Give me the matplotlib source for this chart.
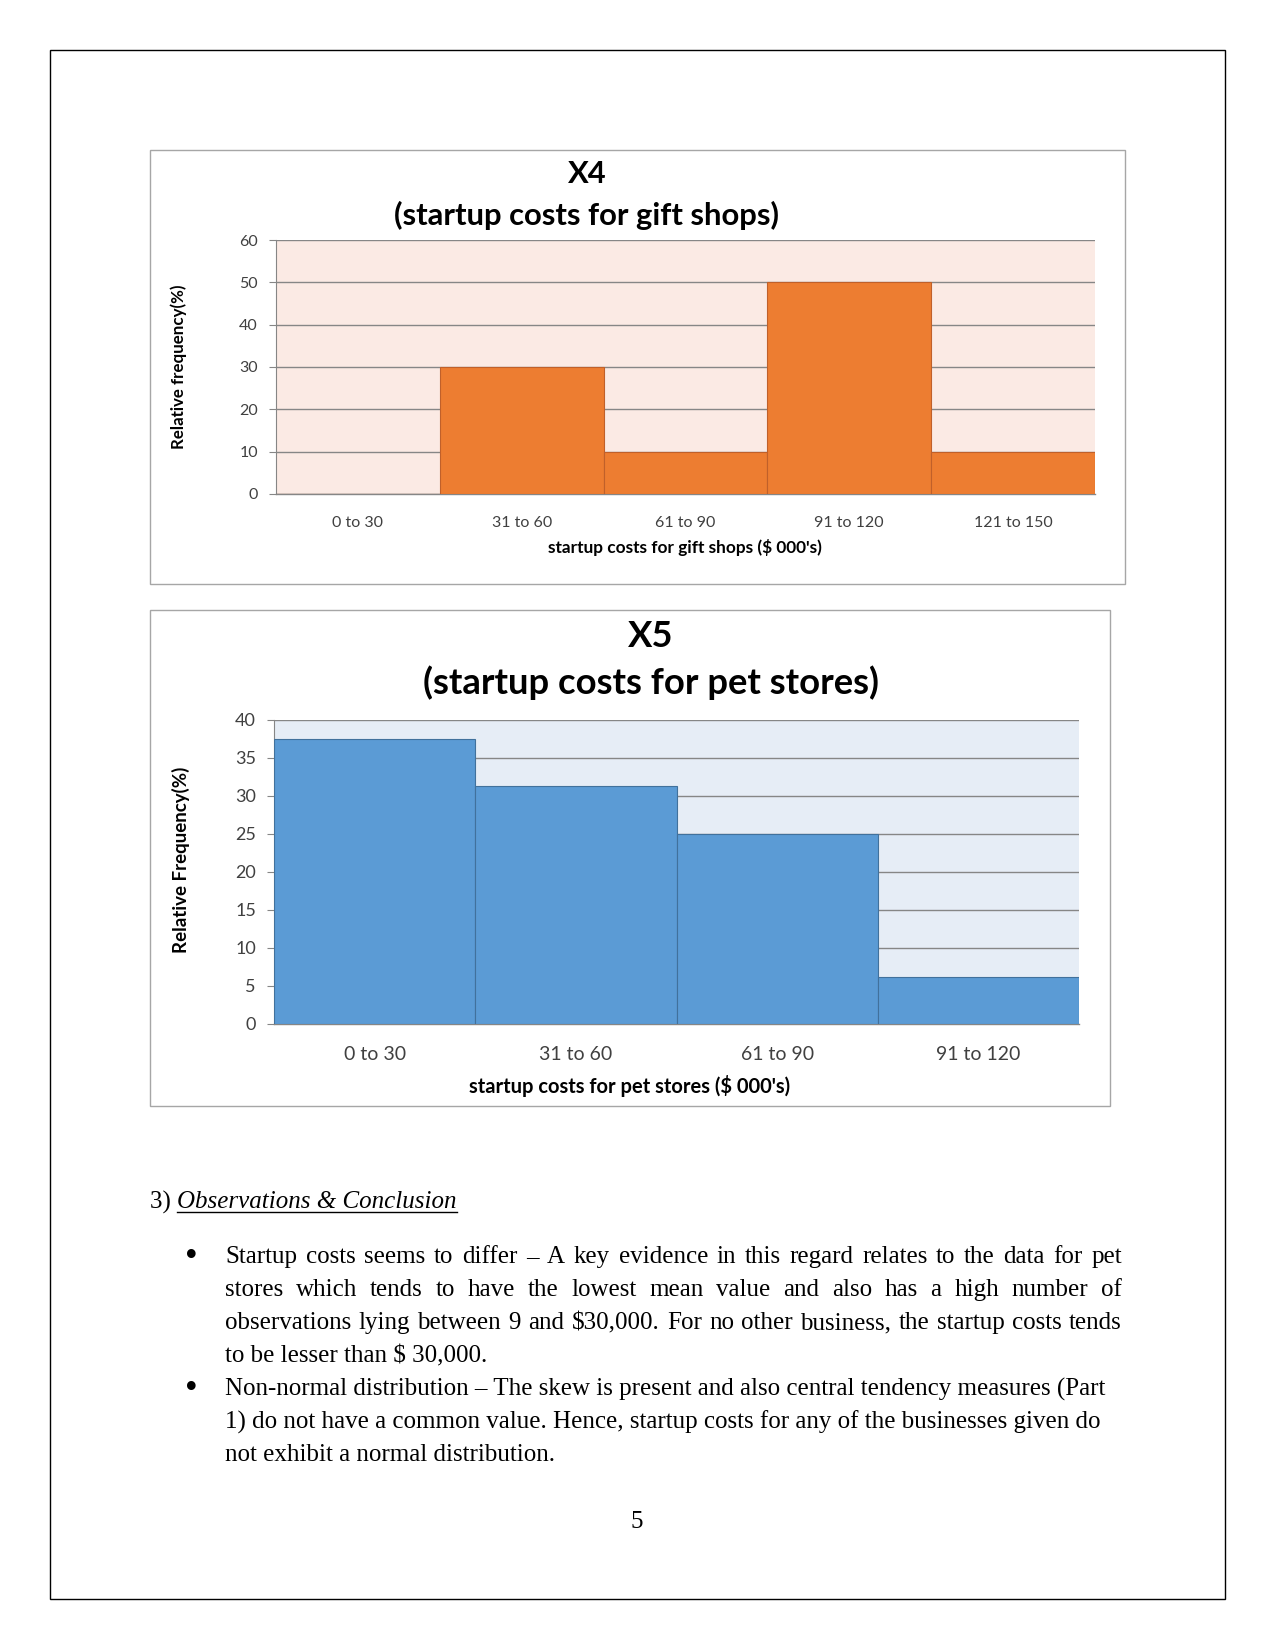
import matplotlib
matplotlib.use("Agg")
import matplotlib.pyplot as plt
from matplotlib.patches import Rectangle
from matplotlib.lines import Line2D

# ---------------- data ----------------
x4_categories = ["0 to 30", "31 to 60", "61 to 90", "91 to 120", "121 to 150"]
x4_values = [0, 30, 10, 50, 10]
x4_yticks = [0, 10, 20, 30, 40, 50, 60]

x5_categories = ["0 to 30", "31 to 60", "61 to 90", "91 to 120"]
x5_values = [37.5, 31.25, 25, 6.25]
x5_yticks = [0, 5, 10, 15, 20, 25, 30, 35, 40]

W, H = 1275, 1650
DPI = 100
fig = plt.figure(figsize=(W / DPI, H / DPI), dpi=DPI)
fig.patch.set_facecolor("white")

CHART_FONT = ["Lato", "DejaVu Sans"]
BODY_FONT = ["Liberation Serif", "DejaVu Serif"]


def fx(x):
    return x / W


def fy(y):
    return 1 - y / H


def box(x0, y0, x1, y1, color="#7f7f7f", lw=1.0):
    fig.patches.append(Rectangle((fx(x0), fy(y1)), fx(x1) - fx(x0), fy(y0) - fy(y1),
                                 transform=fig.transFigure, fill=False,
                                 edgecolor=color, linewidth=lw, zorder=0))


# page border
box(50, 50, 1225, 1599, color="#000000", lw=1.0)


def chart(box_coords, plot_coords, cats, vals, yticks, face, bar_color, edge_color,
          title1, title2, title_x, title_y1, title_y2, title_size, ylabel, ylabel_x,
          ylabel_y, ylabel_size, xlabel, xlabel_x, xlabel_y, xtick_size, ytick_size,
          xlabel_size):
    bx0, by0, bx1, by1 = box_coords
    box(bx0, by0, bx1, by1, color="#a6a6a6", lw=1.0)
    px0, py0, px1, py1 = plot_coords
    ax = fig.add_axes([fx(px0), fy(py1), fx(px1) - fx(px0), fy(py0) - fy(py1)])
    ax.set_facecolor(face)
    ax.bar(range(len(cats)), vals, width=1.0, color=bar_color, edgecolor=edge_color,
           linewidth=0.8, zorder=3)
    ax.set_xlim(-0.5, len(cats) - 0.5)
    ax.set_ylim(yticks[0], yticks[-1])
    ax.set_yticks(yticks)
    ax.set_yticklabels([str(t) for t in yticks], fontsize=ytick_size,
                       family=CHART_FONT, color="#404040")
    ax.set_xticks(range(len(cats)))
    ax.set_xticklabels(cats, fontsize=xtick_size, family=CHART_FONT, color="#404040")
    ax.tick_params(axis="x", length=0, pad=16)
    ax.tick_params(axis="y", length=5, width=0.8, color="#868686", pad=8)
    ax.yaxis.grid(True, color="#868686", linewidth=1.0, zorder=0)
    ax.set_axisbelow(True)
    for s in ["top", "right"]:
        ax.spines[s].set_visible(False)
    ax.spines["left"].set_color("#868686")
    ax.spines["bottom"].set_color("#868686")
    ax.spines["left"].set_linewidth(0.8)
    ax.spines["bottom"].set_linewidth(1.0)
    fig.text(fx(title_x), fy(title_y1), title1, ha="center", va="center",
             fontsize=title_size, fontweight="bold", family=CHART_FONT, color="#000000")
    fig.text(fx(title_x), fy(title_y2), title2, ha="center", va="center",
             fontsize=title_size, fontweight="bold", family=CHART_FONT, color="#000000")
    fig.text(fx(ylabel_x), fy(ylabel_y), ylabel, ha="center", va="center",
             rotation=90, fontsize=ylabel_size, fontweight="bold", family=CHART_FONT,
             color="#000000")
    fig.text(fx(xlabel_x), fy(xlabel_y), xlabel, ha="center", va="center",
             fontsize=xlabel_size, fontweight="bold", family=CHART_FONT, color="#000000")
    return ax


chart((150, 150, 1125, 584), (276, 240, 1095, 494), x4_categories, x4_values, x4_yticks,
      "#fbeae4", "#ed7d31", "#c0602a",
      "X4", "(startup costs for gift shops)", 587, 174, 215, 22.3,
      "Relative frequency(%)", 179, 367, 12.2,
      "startup costs for gift shops ($ 000's)", 685, 548, 11.5, 11.5, 12.4)

chart((150, 610, 1110, 1106), (274, 720, 1079, 1024), x5_categories, x5_values, x5_yticks,
      "#e6edf6", "#5b9bd5", "#41719c",
      "X5", "(startup costs for pet stores)", 651, 636, 683, 26.2,
      "Relative Frequency(%)", 181, 860, 13.5,
      "startup costs for pet stores ($ 000's)", 630, 1086, 14, 13, 14.5)

# ---------------- body text ----------------
BODY_SIZE = 18
renderer = fig.canvas.get_renderer()


def text_width(s, size=BODY_SIZE, style="normal"):
    t = fig.text(0, 0, s, fontsize=size, family=BODY_FONT, style=style)
    w = t.get_window_extent(renderer).width
    t.remove()
    return w


def justify_line(words, x0, x1, y):
    widths = [text_width(w) for w in words]
    gap = (x1 - x0 - sum(widths)) / (len(words) - 1)
    x = x0
    for w, wd in zip(words, widths):
        fig.text(fx(x), fy(y), w, ha="left", va="center", fontsize=BODY_SIZE,
                 family=BODY_FONT, color="#000000")
        x += wd + gap


def plain_line(s, x0, y):
    fig.text(fx(x0), fy(y), s, ha="left", va="center", fontsize=BODY_SIZE,
             family=BODY_FONT, color="#000000")


# heading
hx = 150
hy = 1202
fig.text(fx(hx), fy(hy), "3) ", ha="left", va="center", fontsize=BODY_SIZE,
         family=BODY_FONT, color="#000000")
w3 = text_width("3) ")
fig.text(fx(hx + w3), fy(hy), "Observations & Conclusion", ha="left", va="center",
         fontsize=BODY_SIZE, family=BODY_FONT, style="italic", color="#000000")
wh = text_width("Observations & Conclusion", style="italic")
fig.add_artist(Line2D([fx(hx + w3), fx(hx + w3 + wh)], [fy(hy + 10), fy(hy + 10)],
                      transform=fig.transFigure, color="#000000", linewidth=1.0))

LX0, LX1 = 225, 1122
BULLET_X = 191

bullet1 = [
    "Startup costs seems to differ \u2013 A key evidence in this regard relates to the data for pet",
    "stores which tends to have the lowest mean value and also has a high number of",
    "observations lying between 9 and $30,000. For no other business, the startup costs tends",
]
bullet1_last = "to be lesser than $ 30,000."
bullet2 = [
    "Non-normal distribution \u2013 The skew is present and also central tendency measures (Part",
    "1) do not have a common value. Hence, startup costs for any of the businesses given do",
    "not exhibit a normal distribution.",
]

line_ys1 = [1257, 1290, 1323, 1356]
line_ys2 = [1389, 1422, 1455]

fig.text(fx(BULLET_X), fy(line_ys1[0]), "\u2022", ha="center", va="center",
         fontsize=26, family=BODY_FONT)
for s, y in zip(bullet1, line_ys1):
    justify_line(s.split(" "), LX0, LX1, y)
plain_line(bullet1_last, LX0, line_ys1[3])

fig.text(fx(BULLET_X), fy(line_ys2[0]), "\u2022", ha="center", va="center",
         fontsize=26, family=BODY_FONT)
for s, y in zip(bullet2, line_ys2):
    plain_line(s, LX0, y)

fig.text(fx(637), fy(1522), "5", ha="center", va="center", fontsize=BODY_SIZE,
         family=BODY_FONT)

fig.savefig("out.png", dpi=DPI, facecolor="white")
